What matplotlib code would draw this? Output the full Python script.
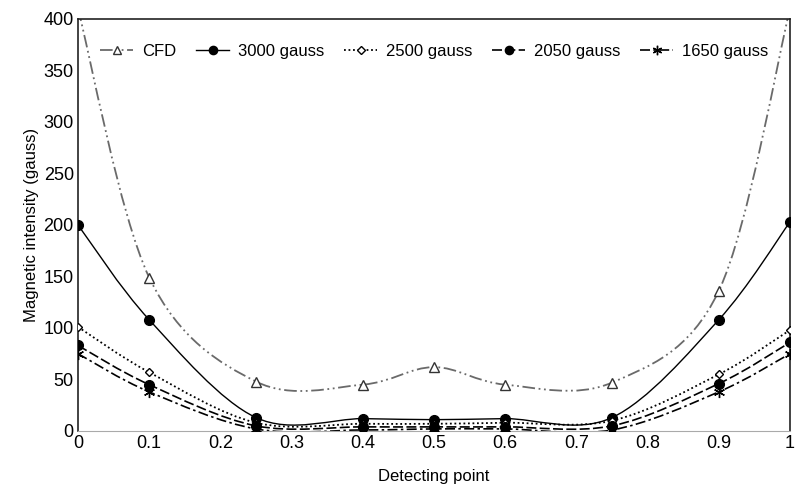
import numpy as np
import matplotlib
matplotlib.use('Agg')
import matplotlib.pyplot as plt
from matplotlib.path import Path
from matplotlib.patches import PathPatch
from matplotlib.lines import Line2D

plt.rcParams['font.family'] = ['Liberation Sans', 'DejaVu Sans']

# pontos de medição
pontos = [0, 0.1, 0.25, 0.4, 0.5, 0.6, 0.75, 0.9, 1]

cfd = [410, 149, 48, 45, 62, 45, 47, 136, 410]
g3000 = [200, 108, 13, 12, 11, 12, 13, 108, 203]
g2500 = [101, 57, 8, 7, 7, 8, 10, 55, 98]
g2050 = [83, 45, 5, 4, 4, 4, 5, 46, 86]
g1650 = [75, 38, 2, 1, 2, 2, 1, 38, 75]

nomes = ['CFD', '3000 gauss', '2500 gauss', '2050 gauss', '1650 gauss']
series = [cfd, g3000, g2500, g2050, g1650]

# estilo de cada curva
estilos = [
    dict(color='#6a6a6a', dashes=(7, 2, 1, 2, 1, 2), marker='^', mfc='white', mec='#333333', ms=6.5, lw=1.3),
    dict(color='black', dashes=None, marker='o', mfc='black', mec='black', ms=7, lw=1.0),
    dict(color='black', dashes=(1, 1.5), marker='D', mfc='white', mec='black', ms=4.5, lw=1.3),
    dict(color='black', dashes=(6, 2), marker='o', mfc='black', mec='black', ms=7, lw=1.2),
    dict(color='black', dashes=(6, 2, 1.5, 2), marker=(6, 2, 0), mfc='black', mec='black', ms=8, lw=1.2),
]


def curva_suave(x, y):
    # caminho bezier passando pelos pontos (tipo "linha suavizada")
    x = np.asarray(x, float)
    y = np.asarray(y, float)
    verts = [(x[0], y[0])]
    codes = [Path.MOVETO]
    n = len(x)
    for i in range(n - 1):
        a = max(i - 1, 0)
        b = min(i + 2, n - 1)
        c1 = (x[i] + (x[i + 1] - x[a]) / 6, y[i] + (y[i + 1] - y[a]) / 6)
        c2 = (x[i + 1] - (x[b] - x[i]) / 6, y[i + 1] - (y[b] - y[i]) / 6)
        verts += [c1, c2, (x[i + 1], y[i + 1])]
        codes += [Path.CURVE4] * 3
    return Path(verts, codes)


fig = plt.figure(figsize=(8, 4.99), dpi=100)
ax = fig.add_axes([0.0975, 0.1363, 0.89, 0.8257])

handles = []
for nome, valores, est in zip(nomes, series, estilos):
    patch = PathPatch(curva_suave(pontos, valores), facecolor='none',
                      edgecolor=est['color'], lw=est['lw'], zorder=2)
    if est['dashes'] is not None:
        patch.set_linestyle((0, est['dashes']))
    ax.add_patch(patch)
    ax.plot(pontos, valores, linestyle='none', marker=est['marker'], ms=est['ms'],
            mfc=est['mfc'], mec=est['mec'], mew=1.0, zorder=3)
    h = Line2D([], [], color=est['color'], lw=est['lw'], marker=est['marker'], ms=est['ms'] * 0.85,
               mfc=est['mfc'], mec=est['mec'])
    if est['dashes'] is not None:
        h.set_dashes(est['dashes'])
    handles.append(h)

ax.set_xlim(0, 1)
ax.set_ylim(0, 400)
ax.set_xticks([0, 0.1, 0.2, 0.3, 0.4, 0.5, 0.6, 0.7, 0.8, 0.9, 1])
ax.set_xticklabels(['0', '0.1', '0.2', '0.3', '0.4', '0.5', '0.6', '0.7', '0.8', '0.9', '1'])
ax.set_yticks(range(0, 401, 50))
ax.tick_params(length=0, labelsize=13, pad=3)
ax.spines['bottom'].set_color('#aaaaaa')
for s in ['left', 'right', 'top']:
    ax.spines[s].set_linewidth(1.2)
    ax.spines[s].set_color('#222222')

ax.set_xlabel('Detecting point', fontsize=12, labelpad=12)
ax.set_ylabel('Magnetic intensity (gauss)', fontsize=12, labelpad=3)

ax.legend(handles, nomes, loc='upper center', bbox_to_anchor=(0.5, 0.975), ncol=5,
          frameon=False, fontsize=12, handlelength=2.0, handletextpad=0.5, columnspacing=1.2)

fig.savefig('out.png', dpi=100)
